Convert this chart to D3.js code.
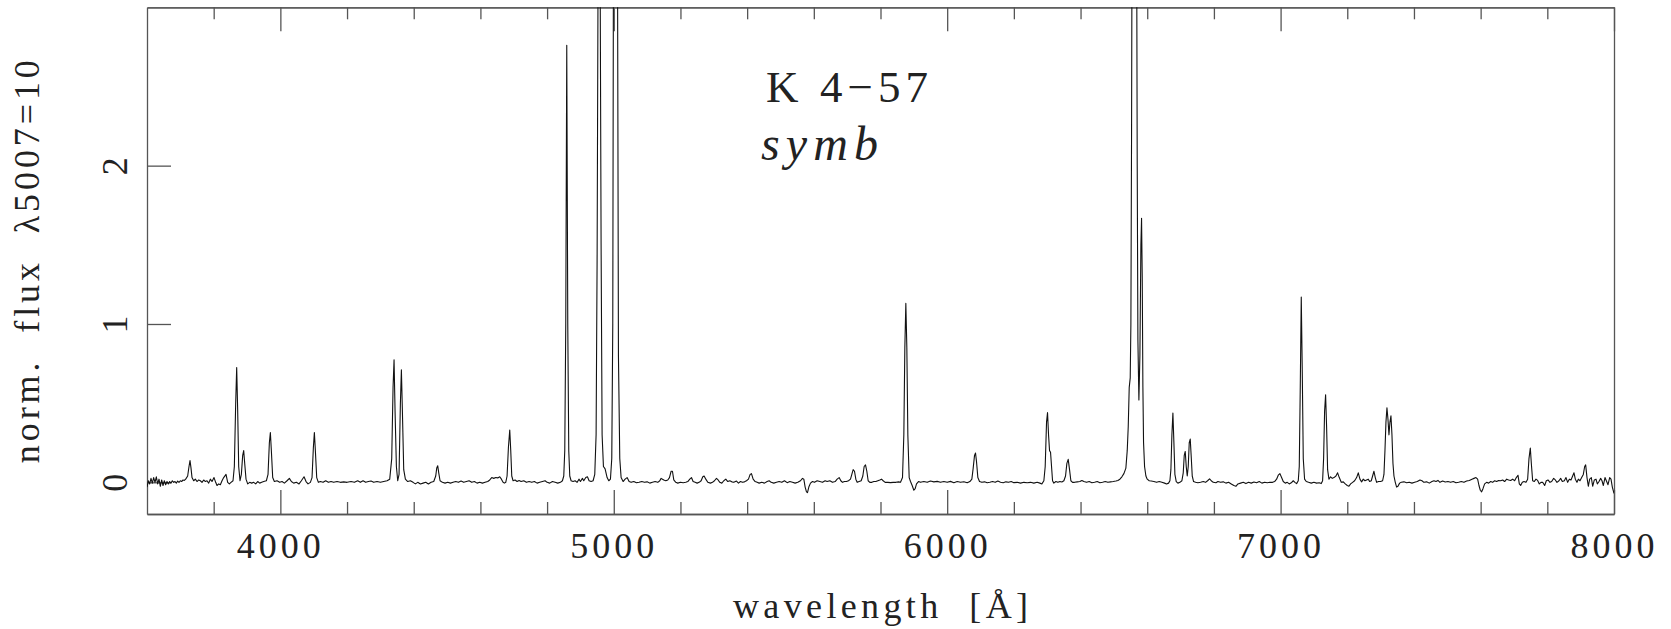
<!DOCTYPE html>
<html>
<head>
<meta charset="utf-8">
<script src="https://cdn.jsdelivr.net/npm/d3@7"></script>
<style>
  html, body { margin: 0; padding: 0; background: #fff; }
  svg text { font-family: "Liberation Serif", "DejaVu Serif", serif; fill: #222; white-space: pre; }
</style>
</head>
<body>
<svg id="chart" width="1671" height="629"></svg>
<script>
// K 4-57 spectrum, flux normalised so that [OIII] 5007 = 10
const xMajor = [4000, 5000, 6000, 7000, 8000]
const xMinor = [3800, 4200, 4400, 4600, 4800, 5200, 5400, 5600, 5800, 6200, 6400, 6600, 6800, 7200, 7400, 7600, 7800]
const yTicks = [0, 1, 2]

// [wavelength (A), flux]
const spectrum = [
  [3600, -0.03], [3604, 0.01], [3608, -0.01], [3612, 0.025], [3616, -0.005], [3620, 0.03], [3624, 0.0], [3628, 0.035],
  [3632, -0.01], [3636, 0.02], [3640, -0.025], [3644, 0.015], [3648, -0.02], [3652, 0.01], [3656, -0.015], [3660, 0.005],
  [3664, -0.01], [3668, 0.005], [3672, -0.005], [3676, 0.01], [3680, 0.0], [3684, 0.005], [3688, -0.005], [3692, 0.008],
  [3696, 0.0], [3700, 0.01], [3704, 0.005], [3708, 0.015], [3712, 0.012], [3716, 0.02], [3722, 0.04], [3726, 0.1],
  [3729, 0.137], [3732, 0.09], [3735, 0.03], [3740, 0.01], [3745, 0.02], [3750, 0.005], [3755, 0.015], [3760, 0.01],
  [3765, 0.0], [3770, 0.015], [3775, 0.005], [3780, 0.01], [3785, -0.005], [3790, 0.02], [3795, 0.005], [3801, 0.03],
  [3806, 0.0], [3810, -0.02], [3815, -0.01], [3820, -0.015], [3825, 0.01], [3830, 0.03], [3837, 0.05], [3842, 0.0],
  [3847, -0.01], [3852, 0.0], [3858, 0.01], [3862, 0.1], [3866, 0.5], [3869, 0.725], [3872, 0.45], [3875, 0.1],
  [3879, 0.01], [3883, 0.05], [3887, 0.17], [3890, 0.2], [3893, 0.12], [3897, 0.02], [3902, -0.01], [3908, 0.0],
  [3914, -0.005], [3920, 0.0], [3926, -0.01], [3932, 0.005], [3938, -0.005], [3944, 0.0], [3950, 0.005], [3958, 0.01],
  [3963, 0.05], [3967, 0.25], [3970, 0.315], [3973, 0.2], [3977, 0.03], [3982, 0.005], [3990, 0.01], [3998, 0.0],
  [4005, 0.005], [4012, -0.005], [4020, 0.01], [4027, 0.025], [4033, 0.005], [4040, -0.005], [4048, 0.0], [4056, -0.01],
  [4063, 0.01], [4071, 0.035], [4077, 0.005], [4083, -0.01], [4090, 0.0], [4095, 0.03], [4099, 0.22], [4102, 0.315],
  [4105, 0.2], [4109, 0.03], [4114, 0.0], [4120, 0.005], [4128, 0.0], [4136, 0.01], [4144, 0.0], [4152, 0.005],
  [4160, 0.0], [4170, 0.005], [4180, 0.0], [4190, 0.003], [4200, 0.0], [4212, 0.005], [4222, 0.0], [4232, 0.01],
  [4240, 0.0], [4248, 0.01], [4256, 0.0], [4264, 0.005], [4272, 0.008], [4280, 0.0], [4290, 0.005], [4300, 0.0],
  [4310, 0.005], [4320, 0.01], [4328, 0.02], [4334, 0.15], [4338, 0.6], [4341, 0.774], [4344, 0.45], [4348, 0.1],
  [4352, 0.01], [4356, 0.05], [4360, 0.5], [4363, 0.71], [4366, 0.45], [4370, 0.08], [4375, 0.02], [4382, 0.005],
  [4390, 0.01], [4398, 0.0], [4405, -0.01], [4412, 0.0], [4420, -0.01], [4428, -0.005], [4436, 0.0], [4444, -0.01],
  [4452, 0.0], [4460, 0.005], [4466, 0.04], [4469, 0.09], [4472, 0.105], [4475, 0.06], [4479, 0.01], [4486, 0.0],
  [4494, -0.005], [4502, 0.0], [4510, -0.005], [4518, 0.0], [4526, 0.005], [4534, 0.0], [4542, 0.008], [4550, 0.0],
  [4558, 0.005], [4566, 0.01], [4574, 0.0], [4582, 0.005], [4590, -0.005], [4598, 0.0], [4606, -0.005], [4614, 0.0],
  [4622, 0.005], [4628, 0.015], [4634, 0.03], [4640, 0.025], [4646, 0.03], [4652, 0.028], [4658, 0.035], [4663, 0.02],
  [4668, 0.0], [4672, -0.005], [4676, 0.0], [4680, 0.04], [4684, 0.22], [4688, 0.33], [4691, 0.2], [4694, 0.04],
  [4698, 0.01], [4704, 0.015], [4710, 0.005], [4716, 0.012], [4722, 0.005], [4730, 0.01], [4738, 0.0], [4746, 0.005],
  [4754, 0.0], [4762, 0.005], [4770, -0.005], [4778, 0.0], [4786, 0.005], [4794, 0.01], [4800, 0.0], [4808, -0.005],
  [4816, 0.005], [4824, 0.0], [4832, -0.005], [4840, 0.0], [4846, 0.01], [4850, 0.04], [4853, 0.2], [4856, 1.0],
  [4859, 2.76], [4862, 1.0], [4865, 0.2], [4868, 0.04], [4872, 0.01], [4878, 0.005], [4884, 0.01], [4890, 0.0],
  [4896, 0.02], [4900, 0.005], [4906, 0.025], [4910, 0.01], [4916, 0.03], [4921, 0.035], [4926, 0.01], [4932, 0.005],
  [4938, 0.01], [4943, 0.05], [4947, 0.3], [4950, 1.4], [4953, 3.3], [4956, 3.8], [4959, 3.3], [4962, 1.5],
  [4965, 0.3], [4969, 0.1], [4974, 0.085], [4980, 0.03], [4985, 0.01], [4990, 0.02], [4994, 0.15], [4997, 1.0],
  [5000, 4.5], [5003, 9.0], [5005, 10], [5008, 8.0], [5011, 3.5], [5014, 0.8], [5018, 0.15], [5022, 0.03],
  [5028, 0.005], [5034, 0.02], [5040, 0.03], [5046, 0.005], [5052, 0.0], [5060, 0.005], [5068, -0.003], [5076, 0.0],
  [5084, 0.005], [5092, 0.0], [5100, 0.003], [5108, -0.005], [5116, 0.0], [5124, 0.005], [5132, 0.0], [5138, 0.01],
  [5142, 0.025], [5146, 0.02], [5150, 0.015], [5156, 0.01], [5162, 0.015], [5167, 0.03], [5172, 0.07], [5176, 0.07],
  [5180, 0.015], [5186, 0.0], [5192, -0.005], [5200, 0.0], [5208, -0.003], [5216, 0.0], [5222, 0.005], [5228, 0.02],
  [5233, 0.03], [5238, 0.005], [5244, 0.0], [5250, -0.005], [5256, 0.0], [5262, 0.01], [5267, 0.035], [5271, 0.04],
  [5276, 0.02], [5282, 0.0], [5290, -0.005], [5296, 0.0], [5302, 0.01], [5308, 0.025], [5313, 0.015], [5318, 0.0],
  [5324, -0.005], [5330, 0.01], [5336, 0.02], [5342, 0.005], [5348, 0.01], [5354, 0.003], [5360, 0.0], [5368, 0.008],
  [5374, -0.005], [5380, 0.005], [5386, 0.0], [5392, 0.003], [5398, 0.01], [5404, 0.02], [5409, 0.05], [5413, 0.055],
  [5418, 0.02], [5424, 0.005], [5430, 0.0], [5436, -0.005], [5444, 0.0], [5452, -0.005], [5460, 0.005], [5466, 0.01],
  [5472, 0.0], [5480, -0.005], [5488, 0.0], [5496, 0.005], [5504, 0.0], [5512, 0.01], [5520, -0.002], [5528, 0.005],
  [5536, 0.0], [5544, -0.005], [5552, 0.0], [5560, 0.01], [5566, 0.025], [5570, 0.02], [5574, -0.03], [5578, -0.06],
  [5581, -0.065], [5585, -0.03], [5590, -0.005], [5596, 0.005], [5602, 0.0], [5610, 0.01], [5618, 0.005], [5626, 0.0],
  [5634, 0.01], [5640, 0.005], [5648, 0.01], [5656, 0.0], [5664, 0.005], [5670, 0.02], [5676, 0.03], [5681, 0.01],
  [5686, 0.0], [5692, 0.005], [5698, 0.005], [5704, 0.01], [5710, 0.02], [5714, 0.05], [5718, 0.08], [5722, 0.07],
  [5726, 0.02], [5730, 0.0], [5736, 0.005], [5742, 0.01], [5747, 0.04], [5751, 0.1], [5755, 0.11], [5759, 0.07],
  [5763, 0.01], [5768, 0.0], [5774, 0.0], [5780, 0.005], [5786, 0.005], [5792, 0.01], [5798, 0.015], [5803, 0.02],
  [5808, 0.01], [5814, 0.0], [5822, 0.0], [5830, -0.002], [5838, 0.0], [5846, 0.0], [5854, 0.003], [5860, 0.0],
  [5866, 0.03], [5870, 0.3], [5873, 0.85], [5876, 1.13], [5879, 0.85], [5882, 0.3], [5886, 0.03], [5890, 0.005],
  [5895, -0.02], [5900, -0.05], [5904, -0.04], [5908, -0.01], [5914, 0.005], [5920, 0.0], [5930, 0.005], [5940, 0.0],
  [5950, 0.008], [5960, 0.003], [5970, 0.006], [5980, 0.0], [5990, 0.005], [6000, 0.0], [6010, 0.006], [6020, -0.002],
  [6030, 0.005], [6040, 0.0], [6050, 0.004], [6060, -0.003], [6068, 0.005], [6074, 0.02], [6078, 0.09], [6082, 0.17],
  [6085, 0.185], [6088, 0.13], [6092, 0.03], [6097, 0.005], [6104, 0.0], [6112, 0.003], [6120, -0.003], [6128, 0.0],
  [6136, 0.005], [6144, 0.0], [6152, 0.008], [6160, 0.0], [6168, -0.003], [6176, 0.003], [6184, 0.0], [6192, 0.005],
  [6200, -0.002], [6210, 0.0], [6220, -0.005], [6230, 0.0], [6240, -0.003], [6250, 0.0], [6260, -0.005], [6270, 0.0],
  [6278, -0.005], [6284, -0.01], [6290, 0.01], [6294, 0.1], [6298, 0.38], [6301, 0.44], [6304, 0.3], [6307, 0.2],
  [6310, 0.19], [6313, 0.1], [6316, 0.01], [6320, -0.005], [6326, 0.005], [6332, 0.0], [6338, 0.005], [6344, 0.002],
  [6350, 0.01], [6355, 0.04], [6359, 0.12], [6363, 0.145], [6367, 0.08], [6371, 0.01], [6376, 0.0], [6382, 0.0],
  [6390, 0.003], [6398, 0.005], [6404, 0.012], [6410, 0.005], [6418, 0.0], [6426, 0.005], [6434, -0.003], [6442, 0.0],
  [6450, 0.005], [6458, -0.003], [6466, 0.0], [6474, 0.005], [6482, 0.0], [6490, 0.003], [6498, 0.005], [6506, 0.008],
  [6512, 0.012], [6518, 0.02], [6524, 0.035], [6530, 0.055], [6536, 0.09], [6540, 0.2], [6543, 0.35], [6546, 0.6],
  [6549, 0.66], [6551, 1.0], [6553, 2.2], [6555, 4.0], [6558, 7.0], [6561, 8.0], [6564, 7.5], [6567, 4.5],
  [6570, 2.0], [6572, 0.9], [6575, 0.52], [6578, 0.8], [6581, 1.5], [6583, 1.667], [6585, 1.3], [6587, 0.6],
  [6589, 0.25], [6592, 0.1], [6596, 0.04], [6600, 0.02], [6606, 0.01], [6612, 0.008], [6620, 0.005], [6628, 0.0],
  [6636, 0.005], [6644, 0.0], [6652, -0.005], [6658, -0.01], [6664, -0.005], [6668, 0.01], [6671, 0.08], [6674, 0.3],
  [6677, 0.437], [6680, 0.25], [6683, 0.05], [6687, 0.005], [6692, -0.005], [6698, 0.0], [6704, 0.01], [6708, 0.06],
  [6711, 0.17], [6714, 0.195], [6717, 0.1], [6720, 0.04], [6723, 0.1], [6726, 0.25], [6729, 0.273], [6732, 0.16],
  [6735, 0.04], [6739, 0.005], [6745, 0.0], [6752, -0.003], [6760, 0.0], [6768, 0.005], [6775, 0.0], [6781, 0.01],
  [6787, 0.022], [6792, 0.01], [6798, 0.0], [6806, -0.003], [6812, 0.005], [6820, 0.0], [6828, 0.003], [6836, -0.005],
  [6844, 0.0], [6852, -0.01], [6860, -0.02], [6866, -0.025], [6872, -0.01], [6880, -0.005], [6888, 0.0], [6896, -0.008],
  [6904, 0.0], [6912, -0.005], [6920, 0.002], [6928, -0.003], [6936, 0.005], [6944, -0.005], [6952, 0.0], [6960, -0.003],
  [6968, 0.0], [6976, 0.0], [6982, 0.005], [6988, 0.02], [6993, 0.045], [6998, 0.055], [7003, 0.03], [7008, 0.005],
  [7014, -0.005], [7020, 0.0], [7026, -0.01], [7032, -0.003], [7038, 0.01], [7043, 0.0], [7048, -0.008], [7053, 0.01],
  [7056, 0.1], [7059, 0.6], [7062, 1.17], [7065, 0.7], [7068, 0.15], [7072, 0.02], [7077, 0.005], [7084, 0.0],
  [7092, -0.005], [7100, 0.0], [7108, -0.005], [7116, -0.003], [7122, -0.008], [7126, 0.01], [7129, 0.15], [7132, 0.45],
  [7135, 0.553], [7138, 0.35], [7141, 0.08], [7145, 0.02], [7150, 0.035], [7155, 0.025], [7160, 0.03], [7166, 0.04],
  [7171, 0.06], [7176, 0.03], [7182, 0.0], [7188, 0.003], [7194, -0.01], [7200, -0.02], [7205, -0.025], [7210, -0.01],
  [7216, 0.0], [7222, 0.01], [7228, 0.03], [7233, 0.06], [7238, 0.02], [7243, 0.003], [7248, 0.02], [7253, 0.01],
  [7258, 0.015], [7263, 0.02], [7267, 0.005], [7272, 0.01], [7276, 0.04], [7280, 0.07], [7284, 0.03], [7288, 0.0],
  [7294, 0.005], [7300, 0.005], [7306, 0.01], [7310, 0.05], [7313, 0.2], [7316, 0.38], [7319, 0.47], [7322, 0.4],
  [7325, 0.3], [7328, 0.38], [7331, 0.42], [7334, 0.3], [7337, 0.12], [7340, 0.04], [7344, 0.0], [7348, -0.03],
  [7352, -0.025], [7357, -0.005], [7362, 0.0], [7370, 0.003], [7378, -0.003], [7386, 0.0], [7394, -0.005], [7402, 0.0],
  [7410, 0.005], [7418, 0.015], [7424, 0.01], [7430, 0.0], [7438, 0.003], [7446, -0.005], [7454, 0.005], [7460, 0.01],
  [7466, 0.005], [7472, 0.012], [7478, 0.0], [7486, 0.008], [7494, 0.002], [7502, 0.005], [7510, 0.0], [7518, 0.005],
  [7526, -0.003], [7534, 0.0], [7542, 0.005], [7550, 0.0], [7558, 0.008], [7566, 0.012], [7574, 0.02], [7580, 0.025],
  [7586, 0.03], [7591, 0.02], [7595, -0.02], [7599, -0.05], [7603, -0.06], [7607, -0.04], [7612, -0.01], [7618, 0.0],
  [7624, -0.005], [7630, 0.005], [7636, 0.0], [7642, 0.01], [7648, 0.005], [7654, 0.012], [7660, 0.01], [7666, 0.015],
  [7672, 0.005], [7678, 0.02], [7684, 0.015], [7690, 0.012], [7696, 0.02], [7702, 0.01], [7707, 0.03], [7712, 0.045],
  [7716, -0.01], [7720, -0.02], [7725, 0.0], [7730, 0.005], [7736, 0.0], [7741, 0.02], [7745, 0.15], [7749, 0.217],
  [7752, 0.12], [7756, 0.01], [7761, 0.005], [7766, 0.02], [7771, 0.012], [7776, -0.01], [7781, 0.0], [7786, 0.0],
  [7792, -0.02], [7797, 0.01], [7802, 0.015], [7808, 0.0], [7813, 0.005], [7819, 0.025], [7824, 0.015], [7829, 0.0],
  [7835, 0.01], [7840, 0.025], [7845, 0.005], [7851, 0.01], [7856, 0.03], [7861, 0.0], [7866, 0.02], [7871, 0.015],
  [7876, 0.04], [7880, 0.06], [7884, 0.02], [7889, 0.0], [7893, 0.02], [7898, 0.01], [7903, 0.03], [7908, 0.05],
  [7912, 0.1], [7915, 0.11], [7919, 0.03], [7923, -0.025], [7927, 0.02], [7932, 0.03], [7936, -0.025], [7941, 0.015],
  [7946, 0.02], [7950, -0.01], [7955, 0.005], [7960, 0.025], [7964, 0.01], [7968, -0.02], [7973, 0.03], [7977, 0.01],
  [7982, -0.015], [7987, 0.03], [7991, 0.02], [7995, -0.03], [8000, -0.07]
]

const svg = d3.select('#chart')
const plotLeft = 147
const plotRight = 1614
const plotTop = 7.3
const plotBottom = 514

const x = d3.scaleLinear().domain([3600, 8000]).range([plotLeft, plotRight])
const y = d3.scaleLinear().domain([-0.2, 3]).range([plotBottom, plotTop])

const frameColor = '#555'

svg.append('defs').append('clipPath')
  .attr('id', 'plot')
  .append('rect')
  .attr('x', plotLeft).attr('y', plotTop)
  .attr('width', plotRight - plotLeft).attr('height', plotBottom - plotTop)

const styleAxis = function (g) {
  g.selectAll('path.domain').attr('stroke', frameColor).attr('stroke-width', 1.3)
  g.selectAll('.tick line').attr('stroke', frameColor).attr('stroke-width', 1.3)
  g.selectAll('.tick text').attr('font-size', 36).attr('fill', '#222')
    .attr('font-family', '"Liberation Serif", "DejaVu Serif", serif')
}

// bottom axis: major ticks with labels, minor ticks without
svg.append('g').attr('transform', 'translate(0,' + plotBottom + ')')
  .call(d3.axisBottom(x).tickValues(xMajor).tickSizeInner(-24).tickSizeOuter(0)
    .tickPadding(18).tickFormat(d3.format('d')))
  .call(styleAxis)
  .call(g => g.selectAll('.tick text').attr('letter-spacing', 4))
svg.append('g').attr('transform', 'translate(0,' + plotBottom + ')')
  .call(d3.axisBottom(x).tickValues(xMinor).tickSizeInner(-12).tickSizeOuter(0).tickFormat(''))
  .call(styleAxis)

// top axis
svg.append('g').attr('transform', 'translate(0,' + plotTop + ')')
  .call(d3.axisTop(x).tickValues(xMajor).tickSizeInner(-24).tickSizeOuter(0).tickFormat(''))
  .call(styleAxis)
svg.append('g').attr('transform', 'translate(0,' + plotTop + ')')
  .call(d3.axisTop(x).tickValues(xMinor).tickSizeInner(-12).tickSizeOuter(0).tickFormat(''))
  .call(styleAxis)

// left axis with rotated labels
svg.append('g').attr('transform', 'translate(' + plotLeft + ',0)')
  .call(d3.axisLeft(y).tickValues(yTicks).tickSizeInner(-24).tickSizeOuter(0).tickFormat(d3.format('d')))
  .call(styleAxis)
  .call(g => g.selectAll('.tick text')
    .attr('transform', 'rotate(-90)')
    .attr('x', 0).attr('y', -20).attr('dy', 0)
    .attr('text-anchor', 'middle'))

// right axis: plain frame line
svg.append('g').attr('transform', 'translate(' + plotRight + ',0)')
  .call(d3.axisRight(y).tickValues([]).tickSizeOuter(0))
  .call(styleAxis)

// spectrum
const line = d3.line().x(d => x(d[0])).y(d => y(d[1]))
svg.append('path')
  .datum(spectrum)
  .attr('clip-path', 'url(#plot)')
  .attr('fill', 'none')
  .attr('stroke', '#111')
  .attr('stroke-width', 1.1)
  .attr('stroke-linejoin', 'round')
  .attr('d', line)

// labels
svg.append('text')
  .attr('x', (plotLeft + plotRight) / 2).attr('y', 618)
  .attr('text-anchor', 'middle')
  .attr('font-size', 36)
  .attr('textLength', 295).attr('lengthAdjust', 'spacing')
  .text('wavelength  [Å]')

svg.append('text')
  .attr('transform', 'translate(39,' + ((plotTop + plotBottom) / 2 + 1) + ') rotate(-90)')
  .attr('text-anchor', 'middle')
  .attr('font-size', 36)
  .attr('textLength', 403).attr('lengthAdjust', 'spacing')
  .text('norm.  flux  λ5007=10')

svg.append('text')
  .attr('x', 766).attr('y', 102)
  .attr('font-size', 45)
  .attr('textLength', 162).attr('lengthAdjust', 'spacing')
  .text('K 4−57')

svg.append('text')
  .attr('x', 761).attr('y', 160)
  .attr('font-size', 48)
  .attr('font-style', 'italic')
  .attr('textLength', 117).attr('lengthAdjust', 'spacing')
  .text('symb')
</script>
</body>
</html>
